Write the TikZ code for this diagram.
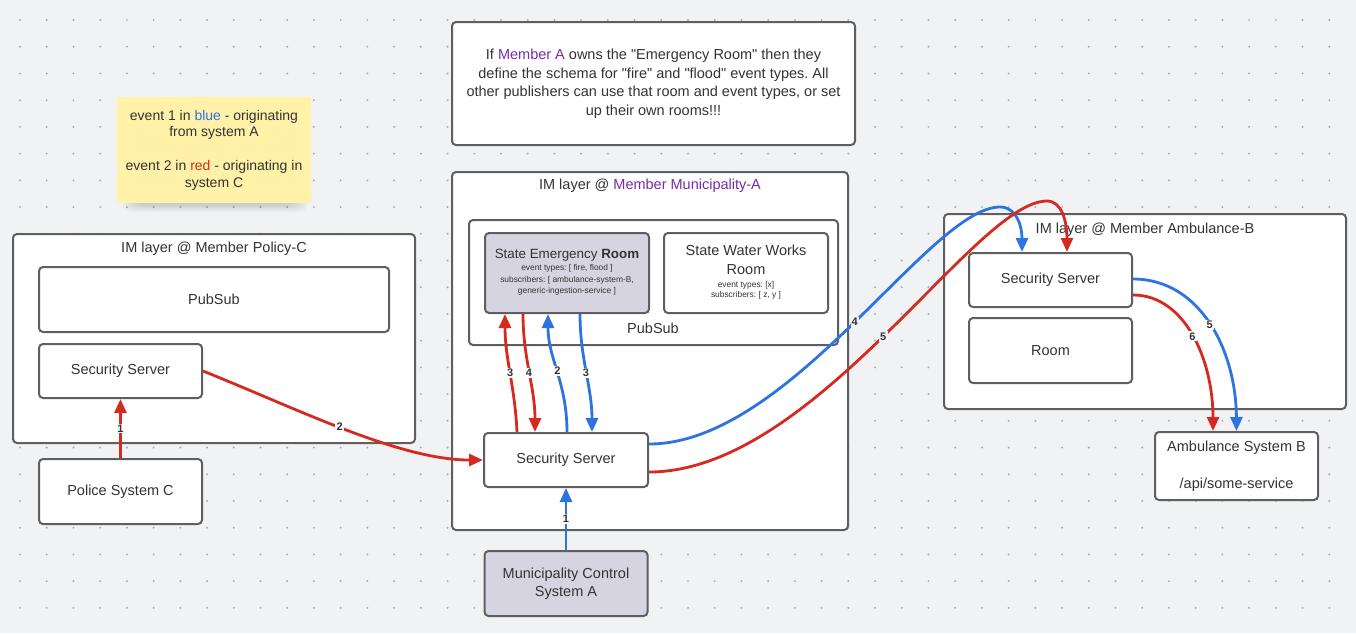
\documentclass[tikz,border=0pt]{standalone}
\usepackage{fontspec}
\setmainfont{Liberation Sans}[Ligatures=TeXOff]
\frenchspacing
\usetikzlibrary{arrows.meta}
\definecolor{bg}{RGB}{241,242,244}
\definecolor{bd}{RGB}{95,95,95}
\definecolor{tx}{RGB}{51,51,51}
\definecolor{lavc}{RGB}{215,212,226}
\definecolor{lred}{RGB}{214,41,31}
\definecolor{lblue}{RGB}{45,116,226}
\definecolor{purp}{RGB}{118,44,170}
\definecolor{sticky}{RGB}{255,241,168}
\definecolor{dotc}{RGB}{172,172,176}
\begin{document}
\begin{tikzpicture}[x=1pt,y=-1pt,
  box/.style={draw=bd, line width=2pt, rounded corners=4pt, fill=white, inner sep=0pt,
    text=tx, font=\fontsize{14.5}{18.5}\selectfont, align=center},
  lavbox/.style={box, fill=lavc},
  txt/.style={text=tx, font=\fontsize{14.5}{18.5}\selectfont, align=center, inner sep=0pt},
  small/.style={text=tx, font=\fontsize{8.4}{11.2}\selectfont, align=center, inner sep=0pt},
  conn/.style={line width=2.8pt, -{Triangle[length=14pt,width=12pt]}},
  rd/.style={conn, draw=lred},
  bl/.style={conn, draw=lblue},
  lbl/.style={font=\fontsize{11}{11}\selectfont\bfseries, text=tx, fill=white, inner sep=1.2pt},
  lblg/.style={lbl, fill=bg}]
\fill[bg] (0,0) rectangle (1356,633);
\useasboundingbox (0,0) rectangle (1356,633);
\foreach \i in {0,...,49} \foreach \j in {0,...,22}
  \fill[dotc] (20+\i*26.72, 20+\j*26.72) circle (1.1pt);

% top note
\node[box, minimum width=403pt, minimum height=123pt] (note) at (653.5,83.5)
  {If \textcolor{purp}{Member A} owns the "Emergency Room" then they\\
   define the schema for "fire" and "flood" event types. All\\
   other publishers can use that room and event types, or set\\
   up their own rooms!!!};

% sticky note with soft shadow
\foreach \k in {0,...,7}
  \fill[black, opacity=0.025, rounded corners=8pt]
    (140-\k*2.5,198-\k*0.6) rectangle (290+\k*2.5,203+\k*1.3);
\node[fill=sticky, minimum width=194pt, minimum height=106pt, inner sep=0pt,
  text=tx, font=\fontsize{14}{16.7}\selectfont, align=center] (stk) at (214,150)
  {event 1 in \textcolor{lblue}{blue} - originating\\from system A\\[16.7pt]
   event 2 in \textcolor{lred}{red} - originating in\\system C};

% Policy-C
\node[box, minimum width=402pt, minimum height=209pt] (polc) at (214,338.5) {};
\node[txt] (polct) at (214,249) {IM layer @ Member Policy-C};
\node[box, minimum width=350pt, minimum height=65pt] (pps) at (214,299.5) {PubSub};
\node[box, minimum width=163pt, minimum height=54pt] (pss) at (120.5,371) {Security Server};
\node[box, minimum width=163pt, minimum height=65pt] (police) at (120.5,491.5) {Police System C};

% Municipality-A
\node[box, minimum width=396pt, minimum height=358pt] (mun) at (650,351) {};
\node[txt] (munt) at (650,186) {IM layer @ \textcolor{purp}{Member Municipality-A}};
\node[box, minimum width=369pt, minimum height=125pt] (mps) at (653.5,282.5) {};
\node[txt] (mpst) at (653,328) {PubSub};
\node[lavbox, minimum width=164pt, minimum height=80pt] (ser) at (567,273) {};
\node[text=tx, font=\fontsize{13.4}{16}\selectfont, inner sep=0pt] (sert) at (567,255)
  {State Emergency \textbf{Room}};
\node[small] (sers) at (567,280)
  {event types: [ fire, flood ]\\subscribers: [ ambulance-system-B,\\generic-ingestion-service ]};
\node[box, minimum width=164pt, minimum height=80pt] (sww) at (746,273) {};
\node[txt] (swwt) at (746,260) {State Water Works\\Room};
\node[small, font=\fontsize{8.4}{10.5}\selectfont] (swws) at (746,290.5)
  {event types: [x]\\subscribers: [ z, y ]};
\node[box, minimum width=164pt, minimum height=54pt] (ss2) at (566,460) {Security Server};
\node[lavbox, minimum width=163pt, minimum height=65pt] (mcs) at (566,583.5)
  {Municipality Control\\System A};

% Ambulance-B
\node[box, minimum width=402pt, minimum height=195pt] (amc) at (1145,311.5) {};
\node[txt] (amct) at (1145,230) {IM layer @ Member Ambulance-B};
\node[box, minimum width=163pt, minimum height=54pt] (ss3) at (1050.5,280) {Security Server};
\node[box, minimum width=163pt, minimum height=65pt] (room) at (1050.5,350.5) {Room};
\node[box, minimum width=163pt, minimum height=68pt] (amb) at (1236.5,466)
  {Ambulance System B\\[18.5pt]/api/some-service};

% connectors
\draw[rd] (police.north) -- (pss.south) node[lbl, midway] {1};
\draw[rd] (pss.east) .. controls (300,410) and (400,460) .. (ss2.west)
  node[lbl, pos=0.47] {2};
\draw[bl] (mcs.north) -- (ss2.south) node[lbl, midway] {1};

\draw[rd] ([xshift=-49pt]ss2.north) .. controls +(-2,-45) and +(0,45) .. ([xshift=-62pt]ser.south)
  node[lbl, pos=0.5] {3};
\draw[rd] ([xshift=-44pt]ser.south) .. controls +(0,45) and +(0,-45) .. ([xshift=-31pt]ss2.north)
  node[lbl, pos=0.5] {4};
\draw[bl] ([xshift=1pt]ss2.north) .. controls +(0,-50) and +(0,45) .. ([xshift=-19pt]ser.south)
  node[lbl, pos=0.5] {2};
\draw[bl] ([xshift=13pt]ser.south) .. controls +(0,45) and +(0,-45) .. ([xshift=26pt]ss2.north)
  node[lbl, pos=0.5] {3};

\draw[bl] ([yshift=16pt]ss2.east) .. controls (790,444) and (930,207) .. (1000,207)
  node[lblg, pos=0.51] {4}
  .. controls (1016,207) and (1022,225) .. ([xshift=-28.5pt]ss3.north);
\draw[rd] ([yshift=-12pt]ss2.east) .. controls (815,472) and (975,201) .. (1047,201)
  node[lblg, pos=0.5] {5}
  .. controls (1062,201) and (1067,222) .. ([xshift=16.5pt]ss3.north);

\draw[bl] ([yshift=1pt]ss3.east) .. controls (1200,279) and (1236,350) .. (amb.north)
  node[lbl, pos=0.5] {5};
\draw[rd] ([yshift=-15pt]ss3.east) .. controls (1185,295) and (1213,360) .. ([xshift=-23.5pt]amb.north)
  node[lbl, pos=0.5] {6};
\end{tikzpicture}
\end{document}
